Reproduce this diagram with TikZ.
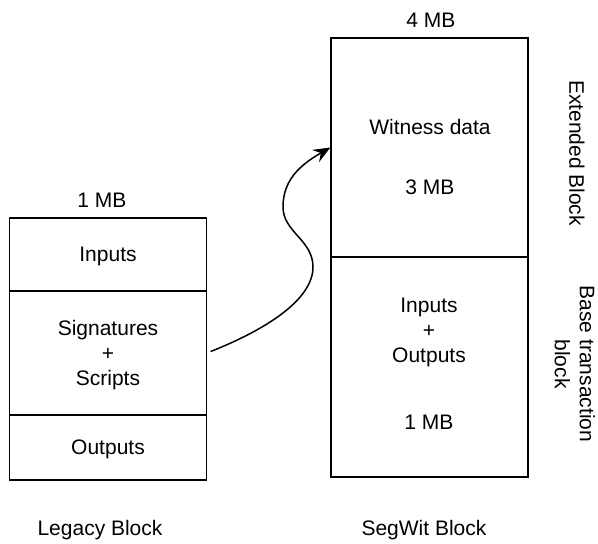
\documentclass[tikz,border=0pt]{standalone}
\usepackage{fontspec}
\setmainfont{Liberation Sans}
\usetikzlibrary{arrows.meta}
\begin{document}
\begin{tikzpicture}[x=1pt, y=-1pt, line width=1.3pt, >={Stealth[length=17pt, width=14pt, inset=6pt]},
	blk/.style={draw, rectangle, inner sep=0pt, align=center, text depth=0pt, font=\fontsize{21}{25}\selectfont},
	txt/.style={inner sep=0pt, align=center, font=\fontsize{21}{25}\selectfont}]
	\useasboundingbox (0, 0) rectangle (598, 544);
	
	\node[blk, minimum width=196.5pt, minimum height=73pt] (inp) at (108, 254.5) {Inputs};
	\node[blk, minimum width=196.5pt, minimum height=124pt] (sig) at (108, 353) {Signatures\\+\\Scripts};
	\node[blk, minimum width=196.5pt, minimum height=65pt] (out) at (108, 447.5) {Outputs};
	\node[txt] (lsize) at (102, 200) {1 MB};
	\node[txt] (lname) at (100, 530) {Legacy Block};
	
	\node[blk, minimum width=197pt, minimum height=219pt] (wit) at (429.5, 147.5) {};
	\node[txt] (wtxt) at (430, 157) {Witness data\\[35pt]3 MB};
	\node[blk, minimum width=197pt, minimum height=220pt] (base) at (429.5, 367) {};
	\node[txt] (btxt) at (429, 364) {Inputs\\+\\Outputs\\[42pt]1 MB};
	\node[txt] (ssize) at (431, 20) {4 MB};
	\node[txt] (sname) at (424, 530) {SegWit Block};
	
	\node[txt, rotate=-90] (ext) at (577, 153) {Extended Block};
	\node[txt, rotate=-90] (btx) at (575, 364) {Base transaction\\block};
	
	\draw[->, line width=1.5pt, shorten <=4pt] (sig.east) .. controls (265, 330) and (313, 300) .. (313, 267)
		.. controls (313, 240) and (283, 232) .. (283, 207) .. controls (283, 180) and (300, 165) .. (wit.west);
\end{tikzpicture}
\end{document}
